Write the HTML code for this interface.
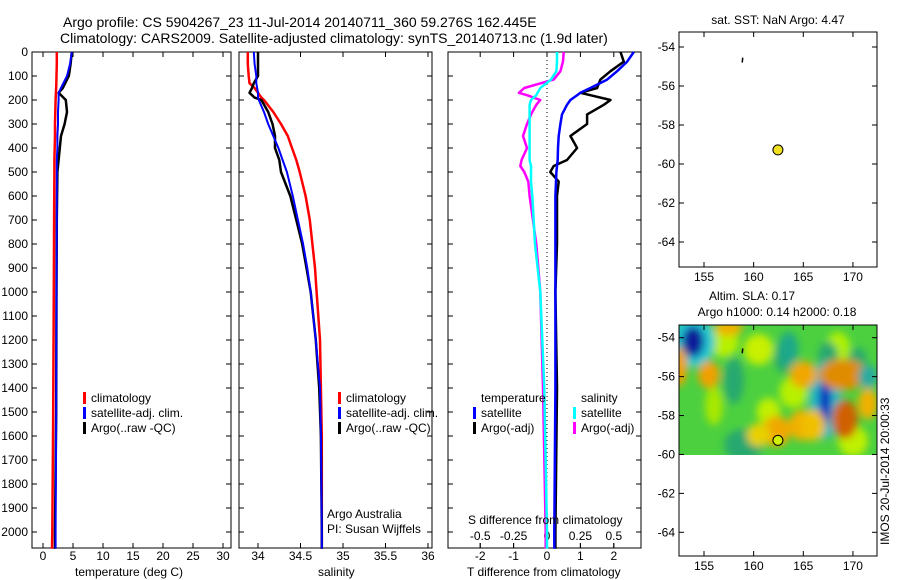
<!DOCTYPE html>
<html><head><meta charset="utf-8">
<style>
html,body{margin:0;padding:0;background:#fff;}
svg{display:block;font-family:"Liberation Sans",sans-serif;}
text{font-size:12px;fill:#000;}
</style></head>
<body>
<svg id="c" width="900" height="580" viewBox="0 0 900 580" xmlns="http://www.w3.org/2000/svg">
<defs>
<filter id="bl" x="-50%" y="-50%" width="200%" height="200%"><feGaussianBlur stdDeviation="4"/></filter>
<clipPath id="slaclip"><rect x="679" y="325" width="198" height="130"/></clipPath>
</defs>
<text x="63" y="27" style="font-size:14px">Argo profile: CS 5904267_23 11-Jul-2014 20140711_360 59.276S 162.445E</text>
<text x="60" y="43" style="font-size:14px">Climatology: CARS2009. Satellite-adjusted climatology: synTS_20140713.nc (1.9d later)</text>
<g id="g"></g>
</svg>
<script>
// ---- data ----
const depthTicks=[0,100,200,300,400,500,600,700,800,900,1000,1100,1200,1300,1400,1500,1600,1700,1800,1900,2000];
const tempTicks=[0,5,10,15,20,25,30];
const salTicks=[34,34.5,35,35.5,36];
const tdTicks=[-2,-1,0,1,2];
const sdTicks=[-0.5,-0.25,0,0.25,0.5];
const sdTickLabels=["-0.5","-0.25","0","0.25","0.5"];
const latTicks=[-54,-56,-58,-60,-62,-64];
const lonTicks=[155,160,165,170];

const tDepth=[0,50,100,150,170,200,250,300,350,400,450,500,700,1000,1500,2000,2070];
const tClim=[2.3,2.3,2.25,2.2,2.15,2.1,2.05,2.0,2.0,1.95,1.9,1.9,1.85,1.8,1.7,1.55,1.5];
const tSat=[4.8,4.5,4.0,3.0,2.6,2.6,2.5,2.5,2.4,2.4,2.3,2.3,2.3,2.25,2.2,2.1,2.1];
const tArgo=[4.8,4.6,4.3,3.3,2.6,3.8,4.0,3.6,3.0,2.8,2.6,2.4,2.3,2.25,2.2,2.0,2.0];

const sDepth=[0,50,100,130,150,170,190,200,250,300,350,400,450,500,600,700,800,900,1000,1200,1400,1600,2000,2070];
const sClim=[33.88,33.88,33.89,33.9,33.96,34.0,34.04,34.07,34.18,34.27,34.35,34.4,34.45,34.49,34.56,34.61,34.64,34.67,34.69,34.73,34.74,34.75,34.75,34.75];
const sSat=[33.95,33.96,33.98,33.98,33.99,34.0,34.0,34.01,34.07,34.12,34.18,34.24,34.29,34.34,34.41,34.47,34.53,34.58,34.62,34.68,34.73,34.74,34.75,34.75];
const sArgo=[34.0,34.0,34.0,33.95,33.93,33.9,33.96,34.04,34.12,34.17,34.2,34.2,34.25,34.27,34.38,34.45,34.52,34.57,34.62,34.68,34.72,34.74,34.75,34.75];

const dDepth=[0,40,80,115,150,170,180,200,220,260,300,350,400,450,475,500,540,600,800,1000,1400,2000,2070];
const dTSat=[2.6,2.4,2.1,1.8,1.3,1.0,0.9,0.7,0.6,0.45,0.4,0.35,0.33,0.32,0.3,0.28,0.27,0.25,0.25,0.25,0.25,0.22,0.22];
const dTArgo=[2.2,2.3,1.9,1.6,1.5,1.0,1.3,1.9,1.7,1.2,1.2,0.7,0.9,0.6,0.2,0.1,0.35,0.3,0.3,0.25,0.3,0.25,0.25];
const dSSat=[0.075,0.075,0.07,0.03,-0.05,-0.07,-0.08,-0.12,-0.13,-0.13,-0.13,-0.13,-0.13,-0.13,-0.12,-0.12,-0.12,-0.11,-0.09,-0.05,-0.02,0.0,0.0];
const dSArgo=[0.125,0.12,0.1,0.05,-0.17,-0.21,-0.15,-0.05,-0.08,-0.12,-0.15,-0.18,-0.15,-0.19,-0.2,-0.17,-0.14,-0.13,-0.08,-0.05,-0.03,-0.01,-0.01];

const argoLon=162.445, argoLat=-59.276;
// SLA blobs: lon, lat, lon-radius, lat-radius, colour
const blobLon=[157,160.5,164,161.5,170,156,168.5,158,163,167.5,170.5,159,153.9,153.9,167.2,167.2,169.0,169.2,165.0,165.0,155.5,162.3,166.0,171.5,152.5,157.5,163.5,171.5,160.5];
const blobLat=[-54.2,-54.6,-56.8,-57.8,-59.3,-57.5,-54.5,-56.2,-55.0,-55.0,-55.2,-59.5,-54.2,-54.2,-57.2,-57.2,-55.9,-58.2,-55.9,-58.5,-55.9,-58.8,-58.5,-57.4,-55.5,-53.5,-54.6,-56.0,-59.0];
const blobRx=[1.5,1.5,1.4,1.2,1.5,0.9,1.2,1.0,0.9,1.0,0.9,2.0,2.2,1.1,1.6,0.6,2.4,1.3,1.4,1.5,1.1,1.4,1.2,1.0,0.8,1.4,1.0,1.0,1.2];
const blobRy=[0.8,0.8,0.8,0.7,0.8,1.0,0.8,1.2,0.8,0.8,0.7,0.8,1.3,0.8,2.0,1.3,0.8,1.0,0.7,0.8,0.7,0.8,0.8,0.8,1.0,0.4,0.9,0.6,0.6];
const blobCol=["#b8f000","#c8f000","#b8f000","#c0f000","#c0f000","#a8e800","#b0f000","#28a870","#28a870","#28a870","#28a870","#28a870","#22c8d0","#0a1a9a","#20b8c0","#1030c0","#e08c00","#d06000","#f0a800","#f0b000","#f0a000","#f0a800","#f0c000","#f0b000","#f0a000","#f0b000","#1fa88a","#2aaaa0","#e8d000"];

// ---- helpers ----
const svg=document.getElementById('g');
const NS="http://www.w3.org/2000/svg";
function el(tag,attrs,parent){const e=document.createElementNS(NS,tag);for(const k in attrs)e.setAttribute(k,attrs[k]);(parent||svg).appendChild(e);return e;}
function txt(x,y,s,anchor,parent,size){const e=el('text',{x:x,y:y,'text-anchor':anchor||'start'},parent);if(size)e.style.fontSize=size+'px';e.textContent=s;return e;}
const yD=d=>52+d*0.24;
const xT=t=>43+6*t;
const xS=s=>258+85*(s-34);
const xDT=t=>547+33.4*t;
const xDS=s=>547+133.6*s;
const lonX=l=>704+9.93*(l-155);
const latY1=l=>47+19.5*(-54-l);
const latY2=l=>337.7+19.46*(-54-l);

function panel(x0,x1,name,xs,ticks,labels,showDepthLabels){
  const g=el('g',{});
  
  
  el('rect',{x:x0,y:52,width:x1-x0,height:496,fill:'none',stroke:'#000','stroke-width':1},g);
  depthTicks.forEach(d=>{const y=yD(d);
    el('line',{x1:x0,x2:x0+5,y1:y,y2:y,stroke:'#000'},g);
    el('line',{x1:x1-5,x2:x1,y1:y,y2:y,stroke:'#000'},g);
    if(showDepthLabels){const t=txt(x0-4,y+4,String(d),'end',g);}
  });
  ticks.forEach((v,i)=>{const x=xs(v);
    el('line',{x1:x,x2:x,y1:548,y2:543,stroke:'#000'},g);
    el('line',{x1:x,x2:x,y1:52,y2:57,stroke:'#000'},g);
    if(labels){const t=txt(x,560,labels[i],'middle',g);}
  });
  return g;
}
function line(xs,xv,dv,color,w,name,parent){
  const pts=dv.map((d,i)=>xs(xv[i]).toFixed(1)+','+yD(d).toFixed(1)).join(' ');
  const p=el('polyline',{points:pts,fill:'none',stroke:color,'stroke-width':w,'stroke-linejoin':'round'},parent);
  
  
  return p;
}
function legend(x,y,color,label,parent){
  const r=el('rect',{x:x,y:y-10,width:3,height:12,fill:color},parent);
  
  
  const t=txt(x+8,y,label,'start',parent);
  
  
}

// panel 1 temperature
const p1=panel(32,231,'temperature-panel',xT,tempTicks,tempTicks.map(String),true);
line(xT,tClim,tDepth,'#f00',2.5,'temp-climatology',p1);
line(xT,tArgo,tDepth,'#000',2.5,'temp-argo',p1);
line(xT,tSat,tDepth,'#00f',2,'temp-satellite',p1);
txt(75,576,'temperature (deg C)','start',p1);
legend(83,402,'#f00','climatology',p1);
legend(83,417,'#00f','satellite-adj. clim.',p1);
legend(83,432,'#000','Argo(..raw -QC)',p1);

// panel 2 salinity
const p2=panel(239,432,'salinity-panel',xS,salTicks,["34","34.5","35","35.5","36"],false);
line(xS,sClim,sDepth,'#f00',2.5,'sal-climatology',p2);
line(xS,sArgo,sDepth,'#000',2.5,'sal-argo',p2);
line(xS,sSat,sDepth,'#00f',2,'sal-satellite',p2);
txt(318,576,'salinity','start',p2);
legend(338,402,'#f00','climatology',p2);
legend(338,417,'#00f','satellite-adj. clim.',p2);
legend(338,432,'#000','Argo(..raw -QC)',p2);
txt(327,518,'Argo Australia','start',p2);
txt(327,533,'PI: Susan Wijffels','start',p2);

// panel 3 differences
const p3=panel(448,641,'difference-panel',xDT,tdTicks,tdTicks.map(String),false);
sdTicks.forEach((v,i)=>{const x=xDS(v);
  el('line',{x1:x,x2:x,y1:548,y2:543,stroke:'#000'},p3);
  const t=txt(x,540,sdTickLabels[i],'middle',p3);
  
  
});
el('line',{x1:xDT(0),x2:xDT(0),y1:52,y2:548,stroke:'#000','stroke-dasharray':'1,3'},p3);
line(xDS,dSArgo,dDepth,'#f0f',2.5,'sdiff-argo',p3);
line(xDS,dSSat,dDepth,'#0ff',2.5,'sdiff-satellite',p3);
line(xDT,dTArgo,dDepth,'#000',2.5,'tdiff-argo',p3);
line(xDT,dTSat,dDepth,'#00f',2.5,'tdiff-satellite',p3);
txt(468,524,'S difference from climatology','start',p3);
txt(467,576,'T difference from climatology','start',p3);
txt(481,402,'temperature','start',p3);
txt(581,402,'salinity','start',p3);
legend(473,417,'#00f','satellite',p3);
legend(473,432,'#000','Argo(-adj)',p3);
legend(573,417,'#0ff','satellite',p3);
legend(573,432,'#f0f','Argo(-adj)',p3);

// map frames
function mapFrame(y0,y1,latY,name){
  const g=el('g',{});
  
  
  el('rect',{x:679,y:y0,width:198,height:y1-y0,fill:'none',stroke:'#000'},g);
  latTicks.forEach(l=>{const y=latY(l);
    el('line',{x1:679,x2:684,y1:y,y2:y,stroke:'#000'},g);
    el('line',{x1:872,x2:877,y1:y,y2:y,stroke:'#000'},g);
    const t=txt(675,y+4,String(l),'end',g);
  });
  lonTicks.forEach(l=>{const x=lonX(l);
    el('line',{x1:x,x2:x,y1:y1,y2:y1-5,stroke:'#000'},g);
    el('line',{x1:x,x2:x,y1:y0,y2:y0+5,stroke:'#000'},g);
    const t=txt(x,y1+14,String(l),'middle',g);
  });
  return g;
}
// SLA heatmap
const hm=el('g',{'clip-path':'url(#slaclip)'});


el('rect',{x:679,y:325,width:198,height:130,fill:'#4cd040'},hm);
const hb=el('g',{filter:'url(#bl)'},hm);
blobLon.forEach((lo,i)=>{
  const e=el('ellipse',{cx:lonX(lo),cy:latY2(blobLat[i]),rx:blobRx[i]*9.93,ry:blobRy[i]*19.46,fill:blobCol[i]},hb);
  
  
});

const m1=mapFrame(32,267,latY1,'sst-map');
txt(778,24,'sat. SST: NaN Argo: 4.47','middle',m1);
const d1=el('circle',{cx:lonX(argoLon),cy:latY1(argoLat),r:5,fill:'#f0e020',stroke:'#000'},m1);


el('line',{x1:lonX(158.9),x2:lonX(158.85),y1:latY1(-54.55),y2:latY1(-54.8),stroke:'#000','stroke-width':1.5},m1);

const m2=mapFrame(325,556,latY2,'sla-map');
txt(752,300,'Altim. SLA: 0.17','middle',m2);
txt(777,316,'Argo h1000: 0.14 h2000: 0.18','middle',m2);
const d2=el('circle',{cx:lonX(argoLon),cy:latY2(argoLat),r:5,fill:'#d0f000',stroke:'#000'},m2);


el('line',{x1:lonX(158.9),x2:lonX(158.85),y1:latY2(-54.55),y2:latY2(-54.8),stroke:'#000','stroke-width':1.5},m2);

const im=txt(0,0,'IMOS 20-Jul-2014 20:00:33','start');
im.setAttribute('transform','translate(889,545) rotate(-90)');


</script>
</body></html>
